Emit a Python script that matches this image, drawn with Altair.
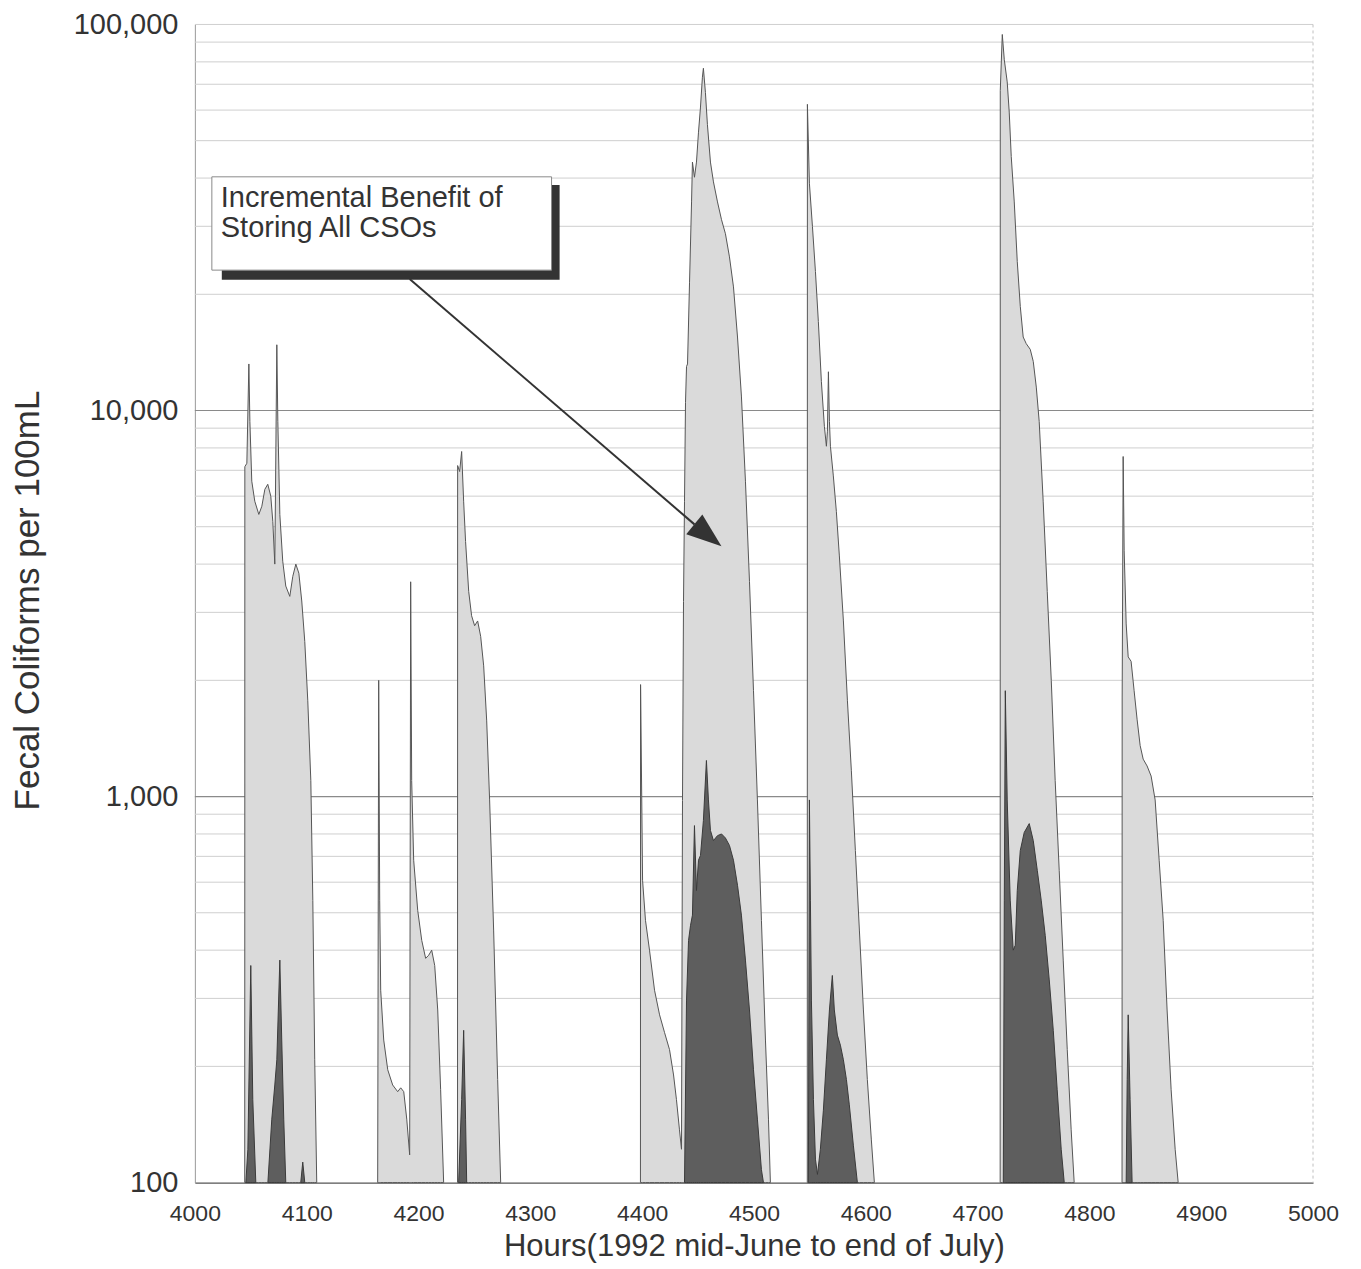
import altair as alt
import pandas as pd

# ---------------- data ----------------
# Light series (hours, fecal coliforms per 100 mL), one list per event
light_hours = [
    [4044.6, 4044.7, 4046.5, 4048.3, 4049.2, 4050.9, 4053.6, 4057.2, 4059.9, 4062.6, 4065.2, 4067.9,
     4069.7, 4071.5, 4073.3, 4074.2, 4076.0, 4078.6, 4081.3, 4084.9, 4087.6, 4090.3, 4093.0, 4095.6,
     4098.3, 4101.0, 4103.7, 4105.5, 4107.2, 4109.0],
    [4163.5, 4164.4, 4165.3, 4166.2, 4168.9, 4172.5, 4176.9, 4181.4, 4184.1, 4186.8, 4189.5, 4192.1,
     4193.0, 4193.9, 4195.7, 4199.3, 4202.9, 4206.4, 4209.1, 4211.8, 4214.5, 4217.2, 4219.8, 4222.5],
    [4234.9, 4235.0, 4236.8, 4238.6, 4240.4, 4242.1, 4244.9, 4247.5, 4250.2, 4252.9, 4255.6, 4258.3,
     4261.0, 4263.6, 4267.2, 4270.8, 4273.5],
    [4398.5, 4398.6, 4400.4, 4403.0, 4406.6, 4411.1, 4415.6, 4420.0, 4424.5, 4428.1, 4430.7, 4433.4,
     4435.2, 4436.1, 4437.0, 4437.9, 4438.8, 4439.7, 4440.6, 4442.4, 4444.2, 4445.0, 4446.8, 4448.6,
     4450.4, 4452.2, 4453.9, 4454.8, 4456.6, 4458.4, 4461.1, 4463.8, 4467.4, 4471.0, 4474.5, 4478.1,
     4481.7, 4485.3, 4488.8, 4492.4, 4496.0, 4499.6, 4503.1, 4506.7, 4510.3, 4513.0, 4514.7],
    [4547.7, 4547.8, 4549.6, 4552.3, 4555.0, 4557.6, 4560.3, 4563.0, 4564.8, 4565.7, 4566.6, 4567.5,
     4568.4, 4571.0, 4573.7, 4576.4, 4580.0, 4583.6, 4587.1, 4590.7, 4594.3, 4597.9, 4601.4, 4605.0,
     4607.7],
    [4720.2, 4720.3, 4722.1, 4723.9, 4726.5, 4728.3, 4730.1, 4732.8, 4735.5, 4738.2, 4740.8, 4743.5,
     4747.1, 4749.8, 4752.5, 4755.1, 4758.7, 4762.3, 4765.9, 4769.4, 4773.0, 4776.6, 4780.2, 4783.7,
     4786.4],
    [4829.2, 4829.3, 4830.2, 4831.1, 4832.9, 4834.7, 4837.3, 4840.0, 4842.7, 4845.4, 4848.1, 4851.6,
     4855.2, 4858.8, 4862.4, 4866.0, 4869.5, 4873.1, 4876.7, 4879.4],
]
light_values = [
    [100, 7150, 7300, 13200, 9370, 6560, 5820, 5380, 5650, 6250, 6440, 6000,
     5160, 4000, 14800, 9370, 5380, 4070, 3510, 3300, 3720, 4000, 3790, 3210,
     2520, 1770, 1100, 538, 208, 100],
    [100, 2000, 539, 315, 234, 196, 179, 172, 176, 172, 146, 118,
     3600, 1100, 684, 507, 424, 381, 388, 400, 365, 280, 174, 100],
    [100, 7200, 6950, 7830, 5800, 4580, 3400, 2940, 2770, 2850, 2600, 2180,
     1570, 980, 451, 185, 100],
    [100, 1950, 607, 478, 400, 315, 272, 245, 221, 190, 164, 137,
     122, 977, 3200, 5820, 10500, 13000, 13200, 21500, 34700, 44000, 40200, 44000,
     52600, 61100, 73000, 77000, 66700, 55000, 44000, 39100, 34700, 31200, 28700, 25000,
     20900, 15500, 10900, 6560, 3610, 1880, 980, 478, 234, 146, 100],
    [100, 62100, 38800, 30000, 22900, 17000, 11900, 9100, 8080, 8840, 12600, 9370,
     8080, 6770, 5480, 4200, 2850, 1770, 1170, 725, 451, 280, 185, 129,
     100],
    [100, 67400, 94200, 81000, 71000, 59300, 45500, 34700, 24300, 18600, 15500, 14900,
     14400, 13400, 11500, 9370, 5800, 3400, 2000, 1100, 644, 377, 221, 137,
     100],
    [100, 1800, 7600, 4330, 2800, 2300, 2240, 1880, 1580, 1355, 1250, 1200,
     1130, 980, 684, 478, 280, 174, 122, 100],
]

# Dark series (with all CSOs stored)
dark_hours = [
    [4045.6, 4047.4, 4050.0, 4051.8, 4054.5],
    [4065.3, 4068.8, 4071.5, 4073.3, 4076.0, 4077.7, 4079.5, 4081.3],
    [4094.7, 4096.5, 4098.3],
    [4235.9, 4238.6, 4240.4, 4242.1, 4243.1],
    [4437.9, 4439.7, 4441.5, 4443.3, 4445.0, 4446.8, 4448.6, 4450.4, 4452.2, 4454.8, 4457.5, 4459.3,
     4461.1, 4463.8, 4467.4, 4471.0, 4474.5, 4478.1, 4481.7, 4485.3, 4488.8, 4492.4, 4496.0, 4499.6,
     4503.1, 4506.7, 4508.5],
    [4548.7, 4549.6, 4550.5, 4551.4, 4553.2, 4555.0, 4556.8, 4559.4, 4562.1, 4564.8, 4567.5, 4570.1,
     4571.9, 4574.6, 4577.3, 4580.0, 4582.7, 4585.3, 4588.9, 4592.5],
    [4723.0, 4723.9, 4724.8, 4726.5, 4729.2, 4731.9, 4733.7, 4735.5, 4738.2, 4741.7, 4746.2, 4749.8,
     4753.4, 4756.9, 4760.5, 4764.1, 4767.7, 4771.2, 4774.8, 4777.5],
    [4832.9, 4833.8, 4834.7, 4836.4, 4838.2],
]
dark_values = [
    [100, 122, 365, 164, 100],
    [100, 146, 179, 208, 377, 234, 146, 100],
    [100, 113, 100],
    [100, 164, 248, 146, 100],
    [100, 297, 424, 464, 493, 841, 571, 684, 704, 867, 1240, 980,
     817, 769, 792, 800, 781, 747, 684, 589, 493, 377, 280, 196,
     146, 108, 100],
    [100, 980, 539, 297, 164, 115, 105, 122, 154, 208, 280, 344,
     280, 241, 227, 208, 185, 159, 125, 100],
    [100, 539, 1880, 980, 539, 400, 412, 571, 725, 807, 851, 769,
     644, 539, 437, 335, 248, 174, 122, 100],
    [100, 185, 272, 164, 100],
]

x_ticks = [4000, 4100, 4200, 4300, 4400, 4500, 4600, 4700, 4800, 4900, 5000]
y_ticks = [100, 1000, 10000, 100000]
major_grid = [1000, 10000]
minor_grid = [200, 300, 400, 500, 600, 700, 800, 900,
              2000, 3000, 4000, 5000, 6000, 7000, 8000, 9000,
              20000, 30000, 40000, 50000, 60000, 70000, 80000, 90000, 100000]
border_x = [5000]

# annotation (data coordinates)
note_lines = ["Incremental Benefit of", "Storing All CSOs"]
note_text_hour = [4023.2, 4023.2]
note_text_value = [33650, 28200]
box_hours = [4015.2, 4319.0]
box_values = [23100, 40300]
shadow_hours = [4024.1, 4326.2]
shadow_values = [21800, 38400]
arrow_hours = [4192.1, 4446.8]
arrow_values = [21900, 5070]
arrowhead_hour = [4458.8]
arrowhead_value = [4750]

# ---------------- build tables ----------------
def series_frame(hours, values):
    rows = []
    for e, (hs, vs) in enumerate(zip(hours, values)):
        for h, v in zip(hs, vs):
            rows.append({"event": e, "hour": h, "value": v, "base": 100})
    return pd.DataFrame(rows)

light_df = series_frame(light_hours, light_values)
dark_df = series_frame(dark_hours, dark_values)

FONT = "Liberation Sans"
TXT = "#333333"

xs = alt.Scale(domain=[4000, 5000], nice=False, zero=False)
ys = alt.Scale(type="log", domain=[100, 100000], nice=False)

x_axis = alt.Axis(values=x_ticks, format="d", title="Hours(1992 mid-June to end of July)",
                  labelFontSize=23, labelFont=FONT, labelColor=TXT,
                  titleFontSize=31, titleFont=FONT, titleColor=TXT, titleFontWeight="normal",
                  ticks=False, grid=False, domainColor="#555555", domainWidth=1.2,
                  labelPadding=20, labelFlush=False, labelOverlap=False,
                  titleX=559.5, titleY=73, titleBaseline="alphabetic", titleAlign="center")
y_axis = alt.Axis(values=y_ticks, format=",d", title="Fecal Coliforms per 100mL",
                  labelFontSize=29, labelFont=FONT, labelColor=TXT,
                  titleFontSize=35, titleFont=FONT, titleColor=TXT, titleFontWeight="normal",
                  ticks=False, grid=False, domainColor="#999999",
                  labelPadding=17, labelFlush=False, labelOverlap=False,
                  titleX=-149, titleY=576, titleAngle=270, titleBaseline="bottom", titleAlign="center")


def X(field="hour"):
    return alt.X(f"{field}:Q", scale=xs, axis=x_axis)


def Y(field="value"):
    return alt.Y(f"{field}:Q", scale=ys, axis=y_axis)


minor = alt.Chart(pd.DataFrame({"value": minor_grid})).mark_rule(
    color="#cfcfcf", strokeWidth=1).encode(y=Y())
major = alt.Chart(pd.DataFrame({"value": major_grid})).mark_rule(
    color="#8a8a8a", strokeWidth=1.2).encode(y=Y())
border = alt.Chart(pd.DataFrame({"hour": border_x})).mark_rule(
    color="#c0c0c0", strokeWidth=1, strokeDash=[3, 3]).encode(x=X())

light = alt.Chart(light_df).mark_area(
    color="#dadada", fillOpacity=1, stroke="#555555", strokeWidth=1, interpolate="linear"
).encode(x=X(), y=Y(), y2="base:Q", detail="event:N")

dark = alt.Chart(dark_df).mark_area(
    color="#5e5e5e", fillOpacity=1, stroke="#3a3a3a", strokeWidth=1, interpolate="linear"
).encode(x=X(), y=Y(), y2="base:Q", detail="event:N")

arrow = alt.Chart(pd.DataFrame({"hour": arrow_hours, "value": arrow_values})).mark_line(
    color="#333333", strokeWidth=2).encode(x=X(), y=Y())
head = alt.Chart(pd.DataFrame({"hour": arrowhead_hour, "value": arrowhead_value})).mark_point(
    shape="M0,-1L0.73,1L-0.73,1Z", filled=True, size=1225, angle=129,
    color="#333333", opacity=1).encode(x=X(), y=Y())

shadow = alt.Chart(pd.DataFrame({"hour": [shadow_hours[0]], "hour2": [shadow_hours[1]],
                                 "value": [shadow_values[0]], "value2": [shadow_values[1]]})).mark_rect(
    color="#333333").encode(x=X(), x2="hour2:Q", y=Y(), y2="value2:Q")
box = alt.Chart(pd.DataFrame({"hour": [box_hours[0]], "hour2": [box_hours[1]],
                              "value": [box_values[0]], "value2": [box_values[1]]})).mark_rect(
    fill="#ffffff", stroke="#8a8a8a", strokeWidth=1).encode(x=X(), x2="hour2:Q", y=Y(), y2="value2:Q")
note = alt.Chart(pd.DataFrame({"hour": note_text_hour, "value": note_text_value, "t": note_lines})).mark_text(
    align="left", baseline="alphabetic", fontSize=29, font=FONT, color=TXT).encode(
    x=X(), y=Y(), text="t:N")

chart = alt.layer(minor, major, border, light, dark, arrow, head, shadow, box, note).properties(
    width=1119, height=1159,
    padding={"left": 187, "top": 16, "right": 40, "bottom": 80},
    autosize=alt.AutoSizeParams(type="none"),
    background="white",
).configure_view(stroke=None)

chart.save("out.html", embed_options={"renderer": "svg", "actions": False})
